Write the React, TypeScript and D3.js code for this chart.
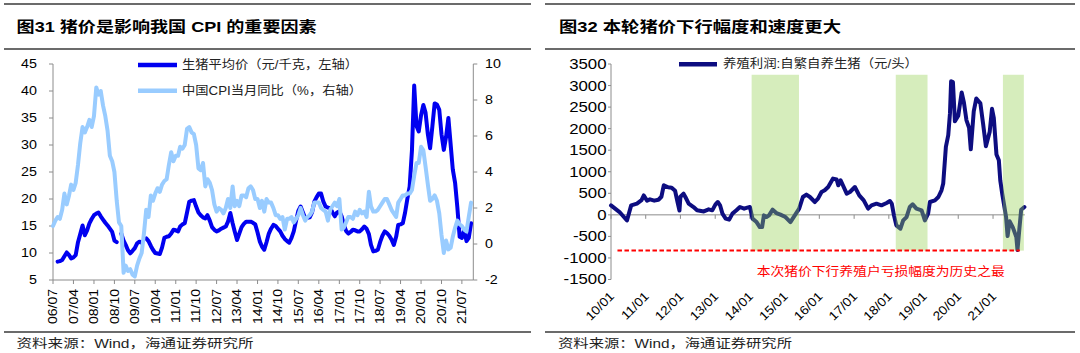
import React from "react";
import * as d3 from "d3";

// ---------------- Figure 31 data ----------------
const figLeftTitle = "图31 猪价是影响我国 CPI 的重要因素";
const pigLegend = "生猪平均价（元/千克，左轴）";
const cpiLegend = "中国CPI当月同比（%，右轴）";
const cpiStartMonth = "2006-07";
const cpiYoY = [
  1.0, 1.3, 1.5, 1.4, 1.9, 2.8,
  2.2, 2.7, 3.3, 3.0, 3.4, 4.4, 5.6, 6.5, 6.2, 6.5, 6.9, 6.5,
  7.1, 8.7, 8.3, 8.5, 7.7, 7.1, 6.3, 4.9, 4.6, 4.0, 2.4, 1.2,
  1.0, -1.6, -1.2, -1.5, -1.4, -1.7, -1.8, -1.2, -0.8, -0.5, 0.6, 1.9,
  1.5, 2.7, 2.4, 2.8, 3.1, 2.9, 3.3, 3.5, 3.6, 4.4, 5.1, 4.6,
  4.9, 4.9, 5.4, 5.3, 5.5, 6.4, 6.5, 6.2, 6.1, 5.5, 4.2, 4.1,
  4.5, 3.2, 3.6, 3.4, 3.0, 2.2, 1.8, 2.0, 1.9, 1.7, 2.0, 2.5,
  2.0, 3.2, 2.1, 2.4, 2.1, 2.7, 2.7, 2.6, 3.1, 3.2, 3.0, 2.5,
  2.5, 2.0, 2.4, 1.8, 2.5, 2.3, 2.3, 2.0, 1.6, 1.6, 1.4, 1.5,
  0.8, 1.4, 1.4, 1.5, 1.2, 1.4, 1.6, 2.0, 1.6, 1.3, 1.5, 1.6,
  1.8, 2.3, 2.3, 2.3, 2.0, 1.9, 1.8, 1.3, 1.9, 2.1, 2.3, 2.1,
  2.5, 0.8, 0.9, 1.2, 1.5, 1.5, 1.4, 1.8, 1.6, 1.9, 1.7, 1.8,
  1.5, 2.9, 2.1, 1.8, 1.8, 1.9, 2.1, 2.3, 2.5, 2.5, 2.2, 1.9,
  1.7, 1.5, 2.3, 2.5, 2.7, 2.7, 2.8, 2.8, 3.0, 3.8, 4.5, 4.5,
  5.4, 5.2, 4.3, 3.3, 2.4, 2.5, 2.7, 2.4, 1.7, 0.5, -0.5, 0.2,
  -0.3, -0.2, 0.4, 0.9, 1.3, 1.1, 1.0, 0.8, 0.7, 1.5, 2.3,
];
const pigStartMonth = "2006-09";
const pigPrice: (number | null)[] = [
  8.4, 8.5, 8.7, 9.4, 10.1, 9.6, 9.0, 9.2, 9.6,
  12.0, 13.5, 15.1, 13.3, 14.2, 15.5, 16.3, 17.0, 17.3, 17.5,
  16.8, 16.2, 15.6, 15.1, 14.5, 13.9, 12.3, 12.0, null, 13.6,
  12.3, 11.5, 10.5, 9.95, 10.4, 10.9, 11.8, 12.1, 11.9, null,
  12.7, 12.2, 11.3, 10.6, 10.0, 9.9, 9.8, 11.0, 12.8, 13.0,
  13.1, 13.6, 14.3, 14.2, 14.0, 14.9, 15.3, 15.5, 17.5, 19.5,
  19.7, 19.8, 18.6, 17.5, 17.0, 16.6, 16.4, 17.0, 16.0, 14.8,
  14.3, 14.0, 14.2, 14.5, 14.7, 14.9, 15.8, 17.4, 15.5, 14.0,
  12.4, 13.6, 14.8, 15.4, 15.8, 15.8, 15.8, 15.6, 15.3, 13.8,
  12.1, 11.2, 10.6, 12.0, 13.6, 14.5, 15.2, 15.0, 14.5, 14.0,
  13.2, 12.6, 12.2, 11.9, 12.8, 14.0, 16.0, 17.8, 18.6, 17.5,
  16.5, 16.5, 16.6, 17.5, 19.5, 20.3, 21.0, 21.0, 19.5, 18.6,
  18.4, 18.3, 17.5, 16.8, 17.5, 17.7, 16.8, 15.3, 14.1, 13.6,
  13.9, 14.3, 14.2, 14.0, 14.0, 14.4, 14.9, 14.5, 13.5, 11.5,
  10.3, 10.4, 10.6, 12.0, 13.2, 14.0, 13.7, 13.2, 12.5, 11.5,
  13.0, 15.2, 15.3, 15.5, 17.5, 20.0, 22.3, 29.0, 41.0, 33.5,
  32.5, 35.5, 37.4, 36.0, 32.0, 29.4, 33.5, 37.7, 37.5, 36.5,
  32.0, 29.1, 31.5, 35.0, 30.0, 25.5, 23.0, 18.5, 13.0, 12.8,
  14.3, 12.2, 12.8, 15.5,
];
const leftXTickLabels = [
  "06/07", "07/04", "08/01", "08/10", "09/07", "10/04", "11/01", "11/10", "12/07", "13/04", "14/01",
  "14/10", "15/07", "16/04", "17/01", "17/10", "18/07", "19/04", "20/01", "20/10", "21/07",
];
const leftYTicks = [5, 10, 15, 20, 25, 30, 35, 40, 45];
const rightYTicks = [-2, 0, 2, 4, 6, 8, 10];
const leftSource = "资料来源：Wind，海通证券研究所";

// ---------------- Figure 32 data ----------------
const figRightTitle = "图32 本轮猪价下行幅度和速度更大";
const profitLegend = "养殖利润:自繁自养生猪（元/头）";
const lossNote = "本次猪价下行养殖户亏损幅度为历史之最";
const profitDates = [
  "2010-01-01", "2010-04-01", "2010-06-18", "2010-08-01", "2010-10-01", "2010-11-18", "2010-12-12",
  "2011-01-15", "2011-02-15", "2011-04-01", "2011-05-15", "2011-06-15", "2011-07-10", "2011-08-25",
  "2011-10-01", "2011-11-06", "2011-12-01", "2011-12-22", "2012-01-01", "2012-02-03", "2012-02-21",
  "2012-03-28", "2012-05-18", "2012-06-24", "2012-09-03", "2012-10-24", "2012-12-01", "2013-01-04",
  "2013-01-28", "2013-02-21", "2013-03-18", "2013-04-21", "2013-05-28", "2013-07-01", "2013-08-12",
  "2013-09-18", "2013-11-01", "2013-12-04", "2014-01-01", "2014-01-28", "2014-03-12", "2014-04-15",
  "2014-05-09", "2014-05-28", "2014-06-24", "2014-07-21", "2014-08-28", "2014-10-06", "2014-11-18",
  "2015-01-10", "2015-03-03", "2015-04-18", "2015-06-03", "2015-07-12", "2015-08-18", "2015-09-24",
  "2015-11-15", "2015-12-18", "2016-01-24", "2016-02-27", "2016-04-03", "2016-05-24", "2016-07-01",
  "2016-07-18", "2016-08-12", "2016-10-15", "2016-11-18", "2017-01-09", "2017-02-24", "2017-04-12",
  "2017-05-28", "2017-07-03", "2017-08-24", "2017-10-15", "2017-12-09", "2018-01-12", "2018-02-01",
  "2018-02-24", "2018-03-21", "2018-05-03", "2018-06-01", "2018-07-06", "2018-08-09", "2018-09-09",
  "2018-10-18", "2018-12-12", "2019-01-15", "2019-02-18", "2019-03-09", "2019-05-01", "2019-06-06",
  "2019-07-09", "2019-07-27", "2019-08-24", "2019-09-18", "2019-10-06", "2019-10-18", "2019-11-06",
  "2019-11-27", "2020-01-01", "2020-02-06", "2020-03-01", "2020-03-27", "2020-04-24", "2020-05-12",
  "2020-06-12", "2020-07-09", "2020-08-21", "2020-09-18", "2020-10-18", "2020-11-27", "2020-12-21",
  "2021-01-09", "2021-02-06", "2021-03-03", "2021-03-18", "2021-04-09", "2021-05-01", "2021-05-18",
  "2021-06-03", "2021-06-24", "2021-07-27", "2021-09-03", "2021-09-15", "2021-10-06", "2021-10-24",
  "2021-11-27",
];
const profitValues = [
  220, 65, -130, 220, 260, 340, 450,
  330, 360, 330, 350, 420, 686, 640,
  630, 560, 300, 100, 420, 490, 420,
  260, 180, 105, 80, 128, 105, 244,
  298, 221, 28, -88, -112, 28, 105,
  182, 144, 167, 182, -88, -167, -284,
  -284, -12, -51, -12, 120, 42, 5,
  -51, -167, -12, 144, 414, 470, 414,
  298, 376, 530, 570, 646, 842, 820,
  686, 802, 492, 530, 646, 453, 337,
  144, 221, 260, 221, 275, 321, 260,
  -12, -244, -321, -128, -51, 182, 244,
  144, 105, -128, 28, 298, 337, 414,
  570, 725, 1577, 1849, 2353, 3100, 3080,
  2170, 2300, 2840, 2600, 2200, 2020, 1520,
  2400, 2700, 2586, 2120, 1590, 1930, 2460,
  2250, 1400, 1267, 800, 470, 180, -50,
  -490, -150, -284, -516, -815, -300, 120,
  182,
];
const bandStarts = ["2014-01-19", "2018-03-15", "2021-04-15"];
const bandEnds = ["2015-06-01", "2019-02-12", "2021-11-21"];
const bandTop = 3250;
const lossRecord = -830;
const lossLineStart = "2010-03-10";
const lossLineEnd = "2021-10-10";
const profitYTicks = [-1500, -1000, -500, 0, 500, 1000, 1500, 2000, 2500, 3000, 3500];
const profitXTickLabels = ["10/01", "11/01", "12/01", "13/01", "14/01", "15/01", "16/01", "17/01", "18/01", "19/01", "20/01", "21/01"];
const rightSource = "资料来源：Wind，海通证券研究所";

// ---------------- helpers ----------------
const FONT = '"Liberation Sans", Arial, "Noto Sans CJK SC", sans-serif';
const monthAt = (start: string, i: number) => {
  const [y, m] = start.split("-").map(Number);
  return new Date(y, m - 1 + i, 1);
};
const parseDay = d3.timeParse("%Y-%m-%d");
const parseTick = (s: string) => {
  const [yy, mm] = s.split("/").map(Number);
  return new Date(2000 + yy, mm - 1, 1);
};

type TP = {
  x: number; y: number; text: string; size: number; anchor?: string; sx?: number; rot?: number;
  weight?: number | string; fill?: string; len?: number; baseline?: string;
};
function Txt({ x, y, text, size, anchor = "start", sx = 1, rot = 0, weight = 400, fill = "#000", len, baseline = "central" }: TP) {
  return (
    <text
      transform={`translate(${x},${y}) rotate(${rot}) scale(${sx},1)`}
      fontSize={size}
      textAnchor={anchor as any}
      dominantBaseline={baseline as any}
      fontWeight={weight}
      fill={fill}
      fontFamily={FONT}
      textLength={len}
      lengthAdjust={len ? "spacingAndGlyphs" : undefined}
    >
      {text}
    </text>
  );
}

const AXIS = "#8c8c8c";
const RULE = "#3a3a3a";

export default function App() {
  // ----- left chart scales -----
  const xL = d3.scaleTime().domain([new Date(2006, 6, 1), new Date(2021, 11, 1)]).range([53, 473.3]);
  const yL = d3.scaleLinear().domain([5, 45]).range([280, 64]);
  const yR = d3.scaleLinear().domain([-2, 10]).range([280, 64]);

  const cpiData = cpiYoY.map((v, i) => ({ d: monthAt(cpiStartMonth, i), v }));
  const pigData = pigPrice.map((v, i) => ({ d: monthAt(pigStartMonth, i), v }));

  const pigLine = d3.line<{ d: Date; v: number | null }>()
    .defined((p) => p.v != null)
    .x((p) => xL(p.d))
    .y((p) => yL(p.v as number));
  const cpiLine = d3.line<{ d: Date; v: number }>()
    .x((p) => xL(p.d))
    .y((p) => yR(p.v));

  // ----- right chart scales -----
  const xP = d3.scaleTime().domain([new Date(2010, 0, 1), new Date(2021, 11, 1)]).range([611, 1024.8]);
  const yP = d3.scaleLinear().domain([-1500, 3500]).range([279.5, 64]);
  const profitData = profitDates.map((s, i) => ({ d: parseDay(s) as Date, v: profitValues[i] }));
  const profitLine = d3.line<{ d: Date; v: number }>().x((p) => xP(p.d)).y((p) => yP(p.v));

  return (
    <svg width={1080} height={353} style={{ position: "fixed", left: 0, top: 0, background: "#fff" }}>
      <rect x={0} y={0} width={1080} height={353} fill="#fff" />

      {/* ============ LEFT FIGURE ============ */}
      <line x1={4} x2={531} y1={4} y2={4} stroke={RULE} strokeWidth={1.5} />
      <line x1={4} x2={531} y1={49} y2={49} stroke={RULE} strokeWidth={1.5} />
      <Txt x={16.6} y={26} text={figLeftTitle} size={15} weight={700} len={300} />

      {/* axes */}
      <line x1={53} x2={53} y1={yL(45)} y2={yL(5)} stroke={AXIS} />
      <line x1={473.3} x2={473.3} y1={yR(10)} y2={yR(-2)} stroke={AXIS} />
      <line x1={53} x2={473.3} y1={yL(5)} y2={yL(5)} stroke={AXIS} />
      {leftYTicks.map((t) => (
        <g key={"ly" + t}>
          <line x1={49} x2={53} y1={yL(t)} y2={yL(t)} stroke={AXIS} />
          <Txt x={37} y={yL(t)} text={String(t)} size={13} anchor="end" sx={1.1} />
        </g>
      ))}
      {rightYTicks.map((t) => (
        <g key={"ry" + t}>
          <line x1={473.3} x2={477.3} y1={yR(t)} y2={yR(t)} stroke={AXIS} />
          <Txt x={485} y={yR(t)} text={String(t)} size={13} anchor="start" sx={1.1} />
        </g>
      ))}
      {leftXTickLabels.map((lab) => {
        const x = xL(parseTick(lab));
        return (
          <g key={"lx" + lab}>
            <line x1={x} x2={x} y1={280} y2={284} stroke={AXIS} />
            <Txt x={x} y={289} text={lab} size={13} anchor="end" rot={-90} sx={1.08} />
          </g>
        );
      })}

      {/* series */}
      <path d={pigLine(pigData) || ""} fill="none" stroke="#0000F0" strokeWidth={4} strokeLinejoin="round" strokeLinecap="round" />
      <path d={cpiLine(cpiData) || ""} fill="none" stroke="#99CCFF" strokeWidth={4} strokeLinejoin="round" strokeLinecap="round" />

      {/* legend */}
      <line x1={138} x2={177} y1={65} y2={65} stroke="#0000F0" strokeWidth={4.5} />
      <Txt x={182} y={65} text={pigLegend} size={12} len={176} fill="#222" />
      <line x1={138} x2={177} y1={90.7} y2={90.7} stroke="#99CCFF" strokeWidth={4.5} />
      <Txt x={182} y={90.7} text={cpiLegend} size={12} len={180} fill="#222" />

      <line x1={4} x2={531} y1={332} y2={332} stroke={RULE} strokeWidth={1.5} />
      <Txt x={16.6} y={344} text={leftSource} size={12.5} len={237} fill="#222" />

      {/* ============ RIGHT FIGURE ============ */}
      <line x1={545} x2={1075} y1={4} y2={4} stroke={RULE} strokeWidth={1.5} />
      <line x1={545} x2={1075} y1={49} y2={49} stroke={RULE} strokeWidth={1.5} />
      <Txt x={559} y={26} text={figRightTitle} size={15} weight={700} len={282} />

      {/* axes */}
      <line x1={611} x2={611} y1={yP(3500)} y2={yP(-1500)} stroke={AXIS} />
      {profitYTicks.map((t) => (
        <g key={"py" + t}>
          <line x1={608} x2={611} y1={yP(t)} y2={yP(t)} stroke={AXIS} />
          <Txt x={606.5} y={yP(t)} text={String(t)} size={14} anchor="end" sx={1.2} />
        </g>
      ))}
      <line x1={611} x2={1024.8} y1={yP(0)} y2={yP(0)} stroke={AXIS} />
      {profitXTickLabels.map((lab) => {
        const x = xP(parseTick(lab));
        return (
          <g key={"px" + lab}>
            <line x1={x} x2={x} y1={yP(0)} y2={yP(0) + 4} stroke={AXIS} />
            <Txt x={x + 1} y={294} text={lab} size={12.5} anchor="end" rot={-45} sx={1.1} />
          </g>
        );
      })}

      {/* series */}
      <path d={profitLine(profitData) || ""} fill="none" stroke="#0D0D80" strokeWidth={4} strokeLinejoin="round" strokeLinecap="round" />

      {/* shaded periods */}
      {bandStarts.map((s, i) => {
        const x0 = xP(parseDay(s) as Date);
        const x1 = xP(parseDay(bandEnds[i]) as Date);
        return (
          <rect key={"band" + i} x={x0} y={yP(bandTop)} width={x1 - x0} height={yP(lossRecord) - yP(bandTop)} fill="#92D050" fillOpacity={0.38} />
        );
      })}

      {/* record loss line */}
      <line
        x1={xP(parseDay(lossLineStart) as Date)}
        x2={xP(parseDay(lossLineEnd) as Date)}
        y1={yP(lossRecord)}
        y2={yP(lossRecord)}
        stroke="#FF0000"
        strokeWidth={2}
        strokeDasharray="4.5 2.5"
      />
      <Txt x={756.7} y={271.7} text={lossNote} size={12} len={248} fill="#FF0000" />

      {/* legend */}
      <line x1={679} x2={717} y1={64.3} y2={64.3} stroke="#0D0D80" strokeWidth={4.5} />
      <Txt x={723} y={64.3} text={profitLegend} size={12} len={195} fill="#222" />

      <line x1={545} x2={1075} y1={332} y2={332} stroke={RULE} strokeWidth={1.5} />
      <Txt x={558} y={344} text={rightSource} size={12.5} len={234} fill="#222" />
    </svg>
  );
}
